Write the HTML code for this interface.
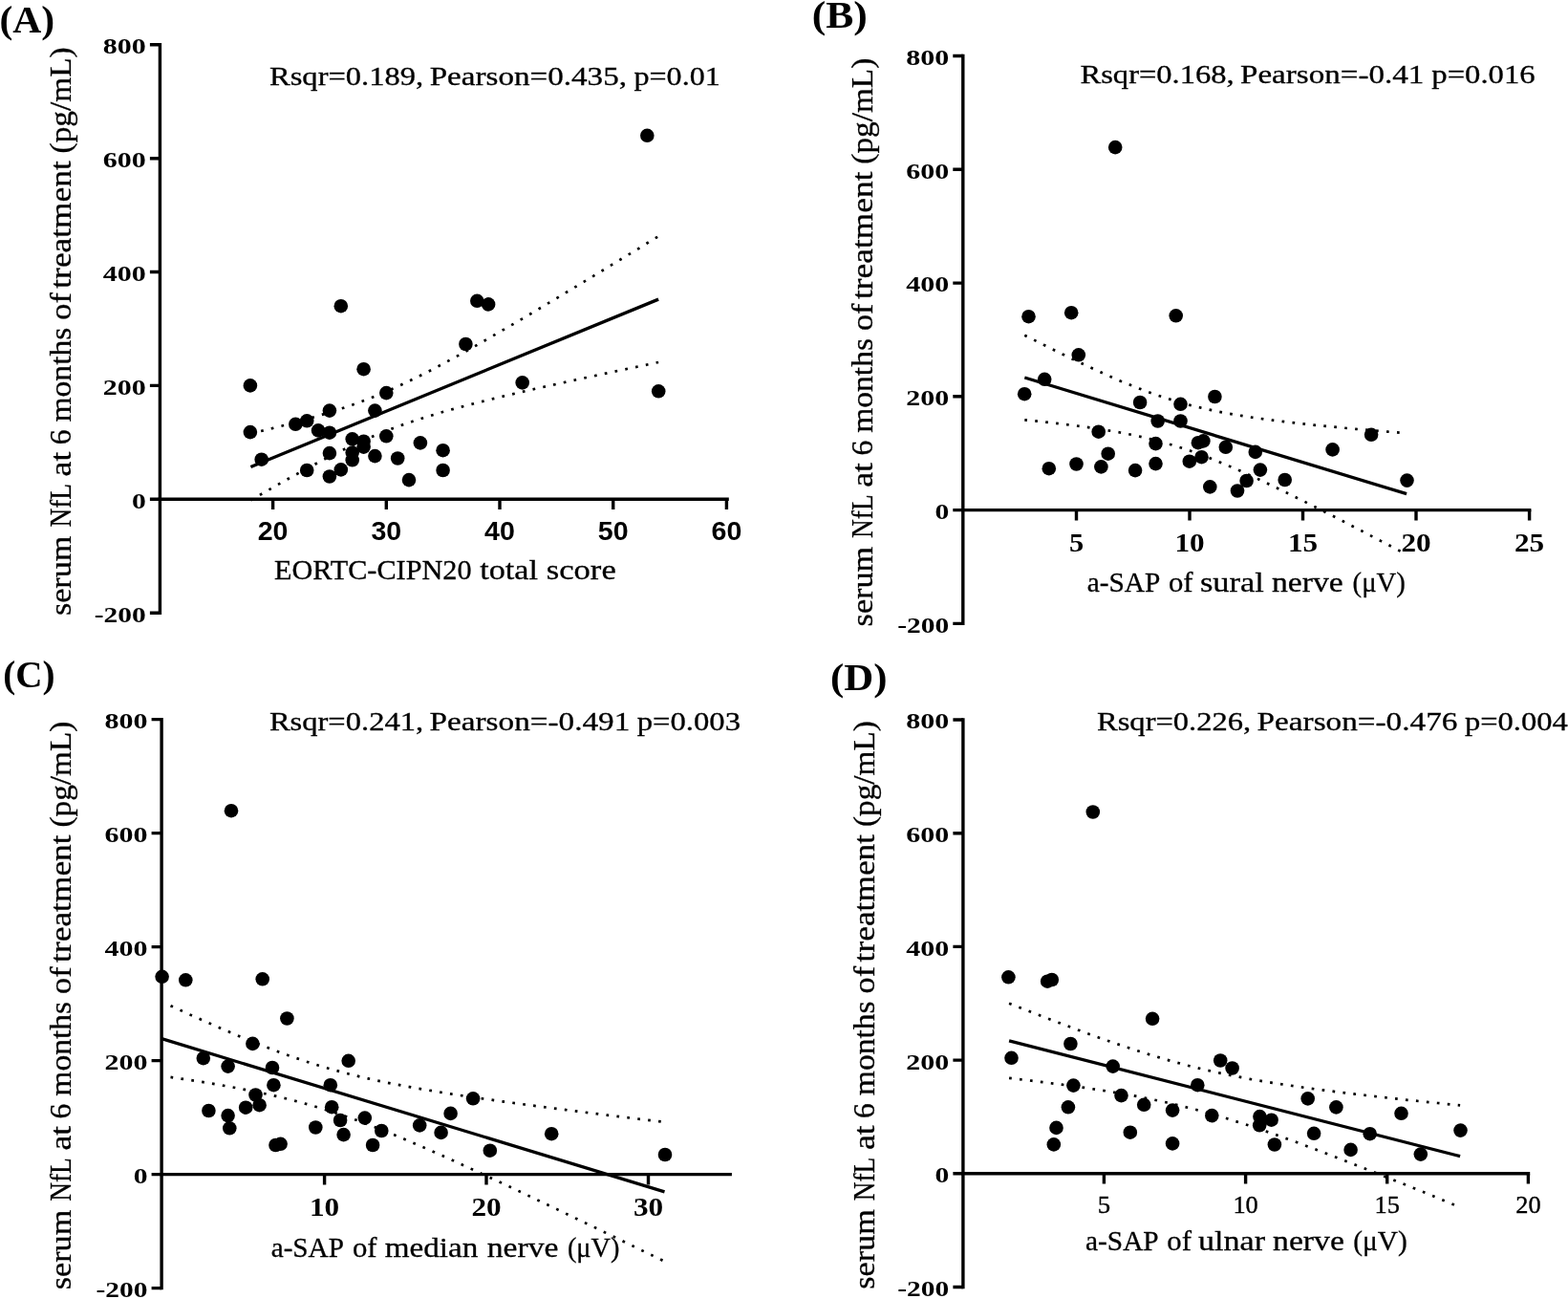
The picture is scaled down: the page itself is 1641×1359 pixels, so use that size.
<!DOCTYPE html>
<html><head><meta charset="utf-8"><title>Figure</title>
<style>html,body{margin:0;padding:0;background:#fff}svg{display:block}text{fill:#000}</style>
</head><body>
<svg width="1641" height="1359" viewBox="0 0 1641 1359">
<rect width="1641" height="1359" fill="#fff"/>
<path d="M167.4 45.1V642.9" stroke="#000" stroke-width="3.4" fill="none"/>
<path d="M165.7 522.3H762.8" stroke="#000" stroke-width="3.4" fill="none"/>
<text x="152.8" y="56.2" font-family='"Liberation Serif", serif' font-size="23.5" font-weight="bold" text-anchor="end" textLength="45.0" lengthAdjust="spacingAndGlyphs">800</text>
<text x="152.8" y="175.1" font-family='"Liberation Serif", serif' font-size="23.5" font-weight="bold" text-anchor="end" textLength="45.0" lengthAdjust="spacingAndGlyphs">600</text>
<text x="152.8" y="293.9" font-family='"Liberation Serif", serif' font-size="23.5" font-weight="bold" text-anchor="end" textLength="45.0" lengthAdjust="spacingAndGlyphs">400</text>
<text x="152.8" y="412.8" font-family='"Liberation Serif", serif' font-size="23.5" font-weight="bold" text-anchor="end" textLength="45.0" lengthAdjust="spacingAndGlyphs">200</text>
<text x="152.8" y="531.7" font-family='"Liberation Serif", serif' font-size="23.5" font-weight="bold" text-anchor="end" textLength="14.8" lengthAdjust="spacingAndGlyphs">0</text>
<text x="152.8" y="650.6" font-family='"Liberation Serif", serif' font-size="23.5" font-weight="bold" text-anchor="end" textLength="54.0" lengthAdjust="spacingAndGlyphs">-200</text>
<text x="285.6" y="565.3" font-family='"Liberation Sans", sans-serif' font-size="27" font-weight="bold" text-anchor="middle" textLength="31.8" lengthAdjust="spacingAndGlyphs">20</text>
<text x="404.3" y="565.3" font-family='"Liberation Sans", sans-serif' font-size="27" font-weight="bold" text-anchor="middle" textLength="31.8" lengthAdjust="spacingAndGlyphs">30</text>
<text x="523.0" y="565.3" font-family='"Liberation Sans", sans-serif' font-size="27" font-weight="bold" text-anchor="middle" textLength="31.8" lengthAdjust="spacingAndGlyphs">40</text>
<text x="641.7" y="565.3" font-family='"Liberation Sans", sans-serif' font-size="27" font-weight="bold" text-anchor="middle" textLength="31.8" lengthAdjust="spacingAndGlyphs">50</text>
<text x="760.4" y="565.3" font-family='"Liberation Sans", sans-serif' font-size="27" font-weight="bold" text-anchor="middle" textLength="31.8" lengthAdjust="spacingAndGlyphs">60</text>
<path d="M156.9 46.8H167.4M156.9 165.7H167.4M156.9 284.5H167.4M156.9 403.4H167.4M156.9 522.3H167.4M156.9 641.2H167.4M285.6 522.3V533.1M404.3 522.3V533.1M523.0 522.3V533.1M641.7 522.3V533.1M760.4 522.3V533.1" stroke="#000" stroke-width="3.4" fill="none"/>
<path d="M262.4 453.6 L269.5 451.9 L276.6 450.2 L283.7 448.4 L290.8 446.6 L298.0 444.8 L305.1 442.9 L312.2 441.0 L319.3 439.0 L326.4 437.0 L333.5 434.9 L340.6 432.8 L347.7 430.6 L354.9 428.3 L362.0 425.9 L369.1 423.4 L376.2 420.8 L383.3 418.2 L390.4 415.4 L397.5 412.5 L404.6 409.4 L411.7 406.3 L418.9 403.1 L426.0 399.7 L433.1 396.3 L440.2 392.8 L447.3 389.2 L454.4 385.5 L461.5 381.7 L468.6 377.9 L475.8 374.0 L482.9 370.1 L490.0 366.2 L497.1 362.1 L504.2 358.1 L511.3 354.0 L518.4 349.9 L525.5 345.8 L532.6 341.6 L539.8 337.5 L546.9 333.3 L554.0 329.1 L561.1 324.8 L568.2 320.6 L575.3 316.3 L582.4 312.1 L589.5 307.8 L596.6 303.5 L603.8 299.2 L610.9 294.9 L618.0 290.6 L625.1 286.3 L632.2 282.0 L639.3 277.6 L646.4 273.3 L653.5 269.0 L660.7 264.6 L667.8 260.3 L674.9 255.9 L682.0 251.5 L689.1 247.2" stroke="#000" stroke-width="2.7" stroke-dasharray="2.7 8.3" stroke-dashoffset="0" fill="none"/>
<path d="M262.4 523.4 L269.5 519.3 L276.6 515.1 L283.7 511.1 L290.8 507.0 L298.0 503.0 L305.1 499.0 L312.2 495.1 L319.3 491.2 L326.4 487.4 L333.5 483.6 L340.6 479.9 L347.7 476.3 L354.9 472.7 L362.0 469.2 L369.1 465.9 L376.2 462.6 L383.3 459.4 L390.4 456.4 L397.5 453.5 L404.6 450.6 L411.7 447.9 L418.9 445.3 L426.0 442.8 L433.1 440.4 L440.2 438.1 L447.3 435.8 L454.4 433.7 L461.5 431.6 L468.6 429.5 L475.8 427.6 L482.9 425.6 L490.0 423.8 L497.1 421.9 L504.2 420.1 L511.3 418.3 L518.4 416.6 L525.5 414.9 L532.6 413.2 L539.8 411.5 L546.9 409.9 L554.0 408.2 L561.1 406.6 L568.2 405.0 L575.3 403.4 L582.4 401.8 L589.5 400.3 L596.6 398.7 L603.8 397.1 L610.9 395.6 L618.0 394.1 L625.1 392.5 L632.2 391.0 L639.3 389.5 L646.4 388.0 L653.5 386.5 L660.7 385.0 L667.8 383.5 L674.9 382.0 L682.0 380.5 L689.1 379.0" stroke="#000" stroke-width="2.7" stroke-dasharray="2.7 8.3" stroke-dashoffset="0" fill="none"/>
<path d="M262.4 488.5L689.1 313.1" stroke="#000" stroke-width="3.3" fill="none"/>
<circle cx="261.9" cy="403.4" r="7.3"/>
<circle cx="261.9" cy="452.1" r="7.3"/>
<circle cx="273.7" cy="480.7" r="7.3"/>
<circle cx="309.3" cy="443.8" r="7.3"/>
<circle cx="321.2" cy="440.3" r="7.3"/>
<circle cx="321.2" cy="492.0" r="7.3"/>
<circle cx="333.1" cy="450.4" r="7.3"/>
<circle cx="344.9" cy="429.6" r="7.3"/>
<circle cx="344.9" cy="452.7" r="7.3"/>
<circle cx="344.9" cy="474.1" r="7.3"/>
<circle cx="344.9" cy="498.5" r="7.3"/>
<circle cx="356.8" cy="320.2" r="7.3"/>
<circle cx="356.8" cy="491.4" r="7.3"/>
<circle cx="368.7" cy="459.3" r="7.3"/>
<circle cx="368.7" cy="473.6" r="7.3"/>
<circle cx="368.7" cy="481.3" r="7.3"/>
<circle cx="380.6" cy="386.2" r="7.3"/>
<circle cx="380.6" cy="461.7" r="7.3"/>
<circle cx="380.6" cy="467.6" r="7.3"/>
<circle cx="392.4" cy="429.6" r="7.3"/>
<circle cx="392.4" cy="477.1" r="7.3"/>
<circle cx="404.3" cy="411.1" r="7.3"/>
<circle cx="404.3" cy="456.3" r="7.3"/>
<circle cx="416.2" cy="479.5" r="7.3"/>
<circle cx="428.0" cy="502.1" r="7.3"/>
<circle cx="439.9" cy="463.4" r="7.3"/>
<circle cx="463.6" cy="471.2" r="7.3"/>
<circle cx="463.6" cy="492.0" r="7.3"/>
<circle cx="487.4" cy="360.0" r="7.3"/>
<circle cx="499.3" cy="314.8" r="7.3"/>
<circle cx="511.1" cy="318.4" r="7.3"/>
<circle cx="546.7" cy="400.4" r="7.3"/>
<circle cx="677.3" cy="141.8" r="7.3"/>
<circle cx="689.2" cy="409.3" r="7.3"/>
<path d="M1007.8 56.8V654.1" stroke="#000" stroke-width="3.4" fill="none"/>
<path d="M1006.1 533.6H1602.4" stroke="#000" stroke-width="3.4" fill="none"/>
<text x="993.2" y="67.9" font-family='"Liberation Serif", serif' font-size="23.5" font-weight="bold" text-anchor="end" textLength="45.0" lengthAdjust="spacingAndGlyphs">800</text>
<text x="993.2" y="186.7" font-family='"Liberation Serif", serif' font-size="23.5" font-weight="bold" text-anchor="end" textLength="45.0" lengthAdjust="spacingAndGlyphs">600</text>
<text x="993.2" y="305.4" font-family='"Liberation Serif", serif' font-size="23.5" font-weight="bold" text-anchor="end" textLength="45.0" lengthAdjust="spacingAndGlyphs">400</text>
<text x="993.2" y="424.2" font-family='"Liberation Serif", serif' font-size="23.5" font-weight="bold" text-anchor="end" textLength="45.0" lengthAdjust="spacingAndGlyphs">200</text>
<text x="993.2" y="543.0" font-family='"Liberation Serif", serif' font-size="23.5" font-weight="bold" text-anchor="end" textLength="14.8" lengthAdjust="spacingAndGlyphs">0</text>
<text x="993.2" y="661.8" font-family='"Liberation Serif", serif' font-size="23.5" font-weight="bold" text-anchor="end" textLength="54.0" lengthAdjust="spacingAndGlyphs">-200</text>
<text x="1126.5" y="576.6" font-family='"Liberation Serif", serif' font-size="26.6" font-weight="bold" text-anchor="middle" textLength="15.2" lengthAdjust="spacingAndGlyphs">5</text>
<text x="1245.0" y="576.6" font-family='"Liberation Serif", serif' font-size="26.6" font-weight="bold" text-anchor="middle" textLength="31.2" lengthAdjust="spacingAndGlyphs">10</text>
<text x="1363.5" y="576.6" font-family='"Liberation Serif", serif' font-size="26.6" font-weight="bold" text-anchor="middle" textLength="31.2" lengthAdjust="spacingAndGlyphs">15</text>
<text x="1482.0" y="576.6" font-family='"Liberation Serif", serif' font-size="26.6" font-weight="bold" text-anchor="middle" textLength="31.2" lengthAdjust="spacingAndGlyphs">20</text>
<text x="1600.6" y="576.6" font-family='"Liberation Serif", serif' font-size="26.6" font-weight="bold" text-anchor="middle" textLength="31.2" lengthAdjust="spacingAndGlyphs">25</text>
<path d="M997.3 58.5H1007.8M997.3 177.3H1007.8M997.3 296.1H1007.8M997.3 414.8H1007.8M997.3 533.6H1007.8M997.3 652.4H1007.8M1126.5 533.6V544.4M1245.0 533.6V544.4M1363.5 533.6V544.4M1482.0 533.6V544.4M1600.6 533.6V544.4" stroke="#000" stroke-width="3.4" fill="none"/>
<path d="M1072.3 350.7 L1079.0 354.1 L1085.6 357.4 L1092.3 360.8 L1099.0 364.1 L1105.6 367.4 L1112.3 370.7 L1118.9 373.9 L1125.6 377.1 L1132.3 380.3 L1138.9 383.4 L1145.6 386.5 L1152.3 389.6 L1158.9 392.6 L1165.6 395.5 L1172.2 398.4 L1178.9 401.1 L1185.6 403.9 L1192.2 406.5 L1198.9 409.0 L1205.6 411.5 L1212.2 413.8 L1218.9 416.0 L1225.6 418.1 L1232.2 420.2 L1238.9 422.1 L1245.5 423.9 L1252.2 425.6 L1258.9 427.1 L1265.5 428.6 L1272.2 430.0 L1278.9 431.4 L1285.5 432.6 L1292.2 433.8 L1298.9 434.9 L1305.5 436.0 L1312.2 437.0 L1318.8 437.9 L1325.5 438.8 L1332.2 439.7 L1338.8 440.5 L1345.5 441.3 L1352.2 442.1 L1358.8 442.9 L1365.5 443.6 L1372.1 444.3 L1378.8 445.0 L1385.5 445.6 L1392.1 446.3 L1398.8 446.9 L1405.5 447.6 L1412.1 448.2 L1418.8 448.8 L1425.5 449.4 L1432.1 449.9 L1438.8 450.5 L1445.4 451.1 L1452.1 451.6 L1458.8 452.2 L1465.4 452.7 L1472.1 453.3" stroke="#000" stroke-width="2.7" stroke-dasharray="2.7 8.3" stroke-dashoffset="0" fill="none"/>
<path d="M1072.3 439.3 L1079.0 440.0 L1085.6 440.7 L1092.3 441.4 L1099.0 442.1 L1105.6 442.9 L1112.3 443.7 L1118.9 444.5 L1125.6 445.3 L1132.3 446.2 L1138.9 447.1 L1145.6 448.1 L1152.3 449.1 L1158.9 450.2 L1165.6 451.3 L1172.2 452.5 L1178.9 453.8 L1185.6 455.1 L1192.2 456.5 L1198.9 458.1 L1205.6 459.7 L1212.2 461.4 L1218.9 463.2 L1225.6 465.2 L1232.2 467.2 L1238.9 469.3 L1245.5 471.6 L1252.2 474.0 L1258.9 476.4 L1265.5 479.0 L1272.2 481.7 L1278.9 484.4 L1285.5 487.2 L1292.2 490.1 L1298.9 493.0 L1305.5 496.0 L1312.2 499.1 L1318.8 502.2 L1325.5 505.3 L1332.2 508.5 L1338.8 511.7 L1345.5 515.0 L1352.2 518.3 L1358.8 521.6 L1365.5 524.9 L1372.1 528.3 L1378.8 531.6 L1385.5 535.0 L1392.1 538.4 L1398.8 541.8 L1405.5 545.3 L1412.1 548.7 L1418.8 552.2 L1425.5 555.6 L1432.1 559.1 L1438.8 562.6 L1445.4 566.1 L1452.1 569.6 L1458.8 573.1 L1465.4 576.6 L1472.1 580.1" stroke="#000" stroke-width="2.7" stroke-dasharray="2.7 8.3" stroke-dashoffset="0" fill="none"/>
<path d="M1072.3 395.0L1472.1 516.7" stroke="#000" stroke-width="3.3" fill="none"/>
<circle cx="1167.2" cy="154.1" r="7.3"/>
<circle cx="1076.5" cy="331.2" r="7.3"/>
<circle cx="1121.2" cy="327.2" r="7.3"/>
<circle cx="1230.7" cy="330.3" r="7.3"/>
<circle cx="1128.8" cy="371.3" r="7.3"/>
<circle cx="1093.2" cy="396.8" r="7.3"/>
<circle cx="1072.2" cy="412.2" r="7.3"/>
<circle cx="1271.4" cy="415.0" r="7.3"/>
<circle cx="1193.1" cy="421.0" r="7.3"/>
<circle cx="1235.5" cy="422.8" r="7.3"/>
<circle cx="1211.7" cy="440.5" r="7.3"/>
<circle cx="1235.5" cy="440.5" r="7.3"/>
<circle cx="1149.7" cy="451.7" r="7.3"/>
<circle cx="1209.5" cy="464.1" r="7.3"/>
<circle cx="1253.9" cy="463.2" r="7.3"/>
<circle cx="1259.4" cy="461.4" r="7.3"/>
<circle cx="1282.8" cy="467.8" r="7.3"/>
<circle cx="1313.8" cy="472.9" r="7.3"/>
<circle cx="1159.7" cy="474.7" r="7.3"/>
<circle cx="1257.5" cy="478.2" r="7.3"/>
<circle cx="1244.8" cy="482.7" r="7.3"/>
<circle cx="1126.5" cy="485.5" r="7.3"/>
<circle cx="1209.5" cy="485.1" r="7.3"/>
<circle cx="1152.4" cy="488.4" r="7.3"/>
<circle cx="1097.8" cy="490.2" r="7.3"/>
<circle cx="1188.1" cy="492.1" r="7.3"/>
<circle cx="1318.9" cy="491.6" r="7.3"/>
<circle cx="1304.6" cy="503.0" r="7.3"/>
<circle cx="1266.3" cy="509.4" r="7.3"/>
<circle cx="1295.0" cy="513.5" r="7.3"/>
<circle cx="1344.7" cy="502.0" r="7.3"/>
<circle cx="1435.1" cy="454.8" r="7.3"/>
<circle cx="1394.6" cy="470.4" r="7.3"/>
<circle cx="1472.5" cy="502.6" r="7.3"/>
<path d="M169.1 750.9V1349.3" stroke="#000" stroke-width="3.4" fill="none"/>
<path d="M167.4 1228.6H765.9" stroke="#000" stroke-width="3.4" fill="none"/>
<text x="154.5" y="762.0" font-family='"Liberation Serif", serif' font-size="23.5" font-weight="bold" text-anchor="end" textLength="45.0" lengthAdjust="spacingAndGlyphs">800</text>
<text x="154.5" y="881.0" font-family='"Liberation Serif", serif' font-size="23.5" font-weight="bold" text-anchor="end" textLength="45.0" lengthAdjust="spacingAndGlyphs">600</text>
<text x="154.5" y="1000.0" font-family='"Liberation Serif", serif' font-size="23.5" font-weight="bold" text-anchor="end" textLength="45.0" lengthAdjust="spacingAndGlyphs">400</text>
<text x="154.5" y="1119.0" font-family='"Liberation Serif", serif' font-size="23.5" font-weight="bold" text-anchor="end" textLength="45.0" lengthAdjust="spacingAndGlyphs">200</text>
<text x="154.5" y="1238.0" font-family='"Liberation Serif", serif' font-size="23.5" font-weight="bold" text-anchor="end" textLength="14.8" lengthAdjust="spacingAndGlyphs">0</text>
<text x="154.5" y="1357.0" font-family='"Liberation Serif", serif' font-size="23.5" font-weight="bold" text-anchor="end" textLength="54.0" lengthAdjust="spacingAndGlyphs">-200</text>
<text x="339.6" y="1271.6" font-family='"Liberation Serif", serif' font-size="26.6" font-weight="bold" text-anchor="middle" textLength="31.2" lengthAdjust="spacingAndGlyphs">10</text>
<text x="509.0" y="1271.6" font-family='"Liberation Serif", serif' font-size="26.6" font-weight="bold" text-anchor="middle" textLength="31.2" lengthAdjust="spacingAndGlyphs">20</text>
<text x="678.5" y="1271.6" font-family='"Liberation Serif", serif' font-size="26.6" font-weight="bold" text-anchor="middle" textLength="31.2" lengthAdjust="spacingAndGlyphs">30</text>
<path d="M158.6 752.6H169.1M158.6 871.6H169.1M158.6 990.6H169.1M158.6 1109.6H169.1M158.6 1228.6H169.1M158.6 1347.6H169.1M339.6 1228.6V1239.4M509.0 1228.6V1239.4M678.5 1228.6V1239.4" stroke="#000" stroke-width="3.4" fill="none"/>
<path d="M178.5 1052.2 L187.1 1056.1 L195.7 1060.1 L204.3 1064.0 L213.0 1067.8 L221.6 1071.6 L230.2 1075.4 L238.8 1079.1 L247.4 1082.8 L256.1 1086.4 L264.7 1089.9 L273.3 1093.4 L281.9 1096.7 L290.5 1100.0 L299.1 1103.2 L307.8 1106.2 L316.4 1109.2 L325.0 1112.0 L333.6 1114.7 L342.2 1117.3 L350.8 1119.7 L359.4 1122.1 L368.1 1124.3 L376.7 1126.4 L385.3 1128.4 L393.9 1130.3 L402.5 1132.1 L411.1 1133.9 L419.8 1135.5 L428.4 1137.1 L437.0 1138.7 L445.6 1140.1 L454.2 1141.6 L462.9 1143.0 L471.5 1144.4 L480.1 1145.7 L488.7 1147.0 L497.3 1148.3 L505.9 1149.5 L514.5 1150.7 L523.2 1152.0 L531.8 1153.2 L540.4 1154.3 L549.0 1155.5 L557.6 1156.6 L566.2 1157.8 L574.9 1158.9 L583.5 1160.0 L592.1 1161.1 L600.7 1162.2 L609.3 1163.3 L618.0 1164.4 L626.6 1165.5 L635.2 1166.6 L643.8 1167.6 L652.4 1168.7 L661.0 1169.7 L669.6 1170.8 L678.3 1171.8 L686.9 1172.9 L695.5 1173.9" stroke="#000" stroke-width="2.7" stroke-dasharray="2.7 8.3" stroke-dashoffset="0" fill="none"/>
<path d="M178.5 1126.9 L187.1 1128.2 L195.7 1129.5 L204.3 1130.8 L213.0 1132.2 L221.6 1133.6 L230.2 1135.1 L238.8 1136.6 L247.4 1138.2 L256.1 1139.9 L264.7 1141.6 L273.3 1143.4 L281.9 1145.2 L290.5 1147.2 L299.1 1149.3 L307.8 1151.5 L316.4 1153.8 L325.0 1156.2 L333.6 1158.7 L342.2 1161.4 L350.8 1164.2 L359.4 1167.1 L368.1 1170.1 L376.7 1173.2 L385.3 1176.5 L393.9 1179.8 L402.5 1183.2 L411.1 1186.7 L419.8 1190.3 L428.4 1194.0 L437.0 1197.7 L445.6 1201.4 L454.2 1205.2 L462.9 1209.1 L471.5 1212.9 L480.1 1216.9 L488.7 1220.8 L497.3 1224.8 L505.9 1228.8 L514.5 1232.8 L523.2 1236.8 L531.8 1240.8 L540.4 1244.9 L549.0 1249.0 L557.6 1253.1 L566.2 1257.2 L574.9 1261.3 L583.5 1265.4 L592.1 1269.6 L600.7 1273.7 L609.3 1277.9 L618.0 1282.0 L626.6 1286.2 L635.2 1290.4 L643.8 1294.5 L652.4 1298.7 L661.0 1302.9 L669.6 1307.1 L678.3 1311.3 L686.9 1315.5 L695.5 1319.7" stroke="#000" stroke-width="2.7" stroke-dasharray="2.7 8.3" stroke-dashoffset="0" fill="none"/>
<path d="M169.2 1086.7L695.5 1246.8" stroke="#000" stroke-width="3.3" fill="none"/>
<circle cx="242.0" cy="848.2" r="7.3"/>
<circle cx="169.6" cy="1021.8" r="7.3"/>
<circle cx="194.3" cy="1025.3" r="7.3"/>
<circle cx="274.7" cy="1024.3" r="7.3"/>
<circle cx="300.4" cy="1065.5" r="7.3"/>
<circle cx="264.4" cy="1091.9" r="7.3"/>
<circle cx="212.8" cy="1107.1" r="7.3"/>
<circle cx="238.6" cy="1115.6" r="7.3"/>
<circle cx="285.0" cy="1117.0" r="7.3"/>
<circle cx="364.7" cy="1109.8" r="7.3"/>
<circle cx="286.4" cy="1135.2" r="7.3"/>
<circle cx="345.8" cy="1135.2" r="7.3"/>
<circle cx="267.5" cy="1145.5" r="7.3"/>
<circle cx="271.6" cy="1156.2" r="7.3"/>
<circle cx="257.2" cy="1158.7" r="7.3"/>
<circle cx="347.2" cy="1158.2" r="7.3"/>
<circle cx="218.4" cy="1162.0" r="7.3"/>
<circle cx="238.6" cy="1167.1" r="7.3"/>
<circle cx="240.3" cy="1180.3" r="7.3"/>
<circle cx="356.1" cy="1172.0" r="7.3"/>
<circle cx="381.8" cy="1169.6" r="7.3"/>
<circle cx="330.3" cy="1179.5" r="7.3"/>
<circle cx="359.6" cy="1187.1" r="7.3"/>
<circle cx="399.3" cy="1183.0" r="7.3"/>
<circle cx="439.2" cy="1177.4" r="7.3"/>
<circle cx="390.1" cy="1198.0" r="7.3"/>
<circle cx="288.5" cy="1198.0" r="7.3"/>
<circle cx="293.6" cy="1196.8" r="7.3"/>
<circle cx="495.1" cy="1149.3" r="7.3"/>
<circle cx="471.6" cy="1164.9" r="7.3"/>
<circle cx="461.6" cy="1184.9" r="7.3"/>
<circle cx="512.8" cy="1203.7" r="7.3"/>
<circle cx="577.2" cy="1186.2" r="7.3"/>
<circle cx="696.0" cy="1208.0" r="7.3"/>
<path d="M1007.9 751.3V1348.2" stroke="#000" stroke-width="3.4" fill="none"/>
<path d="M1006.2 1227.8H1601.2" stroke="#000" stroke-width="3.4" fill="none"/>
<text x="993.3" y="762.4" font-family='"Liberation Serif", serif' font-size="23.5" font-weight="bold" text-anchor="end" textLength="45.0" lengthAdjust="spacingAndGlyphs">800</text>
<text x="993.3" y="881.1" font-family='"Liberation Serif", serif' font-size="23.5" font-weight="bold" text-anchor="end" textLength="45.0" lengthAdjust="spacingAndGlyphs">600</text>
<text x="993.3" y="999.8" font-family='"Liberation Serif", serif' font-size="23.5" font-weight="bold" text-anchor="end" textLength="45.0" lengthAdjust="spacingAndGlyphs">400</text>
<text x="993.3" y="1118.5" font-family='"Liberation Serif", serif' font-size="23.5" font-weight="bold" text-anchor="end" textLength="45.0" lengthAdjust="spacingAndGlyphs">200</text>
<text x="993.3" y="1237.2" font-family='"Liberation Serif", serif' font-size="23.5" font-weight="bold" text-anchor="end" textLength="14.8" lengthAdjust="spacingAndGlyphs">0</text>
<text x="993.3" y="1355.9" font-family='"Liberation Serif", serif' font-size="23.5" font-weight="bold" text-anchor="end" textLength="54.0" lengthAdjust="spacingAndGlyphs">-200</text>
<text x="1155.4" y="1269.0" font-family='"Liberation Serif", serif' font-size="24.5" font-weight="normal" text-anchor="middle" textLength="13.4" lengthAdjust="spacingAndGlyphs" stroke="#000" stroke-width="0.35">5</text>
<text x="1303.6" y="1269.0" font-family='"Liberation Serif", serif' font-size="24.5" font-weight="normal" text-anchor="middle" textLength="26.4" lengthAdjust="spacingAndGlyphs" stroke="#000" stroke-width="0.35">10</text>
<text x="1451.7" y="1269.0" font-family='"Liberation Serif", serif' font-size="24.5" font-weight="normal" text-anchor="middle" textLength="26.4" lengthAdjust="spacingAndGlyphs" stroke="#000" stroke-width="0.35">15</text>
<text x="1599.4" y="1269.0" font-family='"Liberation Serif", serif' font-size="24.5" font-weight="normal" text-anchor="middle" textLength="26.4" lengthAdjust="spacingAndGlyphs" stroke="#000" stroke-width="0.35">20</text>
<path d="M997.4 753.0H1007.9M997.4 871.7H1007.9M997.4 990.4H1007.9M997.4 1109.1H1007.9M997.4 1227.8H1007.9M997.4 1346.5H1007.9M1155.4 1227.8V1238.6M1303.6 1227.8V1238.6M1451.7 1227.8V1238.6M1599.4 1227.8V1238.6" stroke="#000" stroke-width="3.4" fill="none"/>
<path d="M1056.1 1049.7 L1064.0 1052.8 L1071.8 1055.9 L1079.7 1059.0 L1087.6 1062.1 L1095.4 1065.1 L1103.3 1068.1 L1111.2 1071.1 L1119.0 1074.1 L1126.9 1077.0 L1134.8 1080.0 L1142.6 1082.8 L1150.5 1085.7 L1158.4 1088.5 L1166.2 1091.2 L1174.1 1093.9 L1182.0 1096.5 L1189.8 1099.1 L1197.7 1101.6 L1205.6 1104.1 L1213.4 1106.4 L1221.3 1108.7 L1229.2 1111.0 L1237.0 1113.1 L1244.9 1115.2 L1252.8 1117.1 L1260.6 1119.0 L1268.5 1120.8 L1276.4 1122.6 L1284.2 1124.2 L1292.1 1125.8 L1300.0 1127.3 L1307.8 1128.8 L1315.7 1130.2 L1323.6 1131.5 L1331.4 1132.8 L1339.3 1134.0 L1347.2 1135.2 L1355.0 1136.4 L1362.9 1137.5 L1370.8 1138.6 L1378.6 1139.7 L1386.5 1140.7 L1394.4 1141.7 L1402.2 1142.7 L1410.1 1143.6 L1418.0 1144.6 L1425.8 1145.5 L1433.7 1146.4 L1441.6 1147.3 L1449.4 1148.2 L1457.3 1149.1 L1465.2 1149.9 L1473.0 1150.8 L1480.9 1151.6 L1488.8 1152.4 L1496.6 1153.2 L1504.5 1154.0 L1512.4 1154.8 L1520.2 1155.6 L1528.1 1156.4" stroke="#000" stroke-width="2.7" stroke-dasharray="2.7 8.3" stroke-dashoffset="0" fill="none"/>
<path d="M1056.1 1127.9 L1064.0 1128.8 L1071.8 1129.8 L1079.7 1130.7 L1087.6 1131.7 L1095.4 1132.7 L1103.3 1133.7 L1111.2 1134.7 L1119.0 1135.7 L1126.9 1136.8 L1134.8 1137.9 L1142.6 1139.1 L1150.5 1140.3 L1158.4 1141.5 L1166.2 1142.8 L1174.1 1144.2 L1182.0 1145.5 L1189.8 1147.0 L1197.7 1148.5 L1205.6 1150.1 L1213.4 1151.8 L1221.3 1153.5 L1229.2 1155.3 L1237.0 1157.2 L1244.9 1159.2 L1252.8 1161.2 L1260.6 1163.4 L1268.5 1165.6 L1276.4 1167.9 L1284.2 1170.2 L1292.1 1172.7 L1300.0 1175.2 L1307.8 1177.8 L1315.7 1180.4 L1323.6 1183.1 L1331.4 1185.8 L1339.3 1188.6 L1347.2 1191.5 L1355.0 1194.3 L1362.9 1197.3 L1370.8 1200.2 L1378.6 1203.2 L1386.5 1206.2 L1394.4 1209.2 L1402.2 1212.2 L1410.1 1215.3 L1418.0 1218.4 L1425.8 1221.5 L1433.7 1224.6 L1441.6 1227.8 L1449.4 1230.9 L1457.3 1234.1 L1465.2 1237.3 L1473.0 1240.4 L1480.9 1243.6 L1488.8 1246.8 L1496.6 1250.0 L1504.5 1253.3 L1512.4 1256.5 L1520.2 1259.7 L1528.1 1263.0" stroke="#000" stroke-width="2.7" stroke-dasharray="2.7 8.3" stroke-dashoffset="0" fill="none"/>
<path d="M1056.1 1088.8L1528.1 1209.7" stroke="#000" stroke-width="3.3" fill="none"/>
<circle cx="1143.8" cy="849.5" r="7.3"/>
<circle cx="1055.4" cy="1022.3" r="7.3"/>
<circle cx="1096.2" cy="1026.7" r="7.3"/>
<circle cx="1100.8" cy="1025.0" r="7.3"/>
<circle cx="1206.1" cy="1065.8" r="7.3"/>
<circle cx="1120.4" cy="1092.0" r="7.3"/>
<circle cx="1058.5" cy="1106.8" r="7.3"/>
<circle cx="1164.7" cy="1115.6" r="7.3"/>
<circle cx="1277.2" cy="1109.5" r="7.3"/>
<circle cx="1289.6" cy="1117.5" r="7.3"/>
<circle cx="1253.3" cy="1135.2" r="7.3"/>
<circle cx="1123.4" cy="1135.6" r="7.3"/>
<circle cx="1173.5" cy="1146.1" r="7.3"/>
<circle cx="1197.2" cy="1155.8" r="7.3"/>
<circle cx="1117.9" cy="1158.3" r="7.3"/>
<circle cx="1227.1" cy="1161.6" r="7.3"/>
<circle cx="1268.3" cy="1167.1" r="7.3"/>
<circle cx="1105.5" cy="1179.9" r="7.3"/>
<circle cx="1182.8" cy="1184.7" r="7.3"/>
<circle cx="1102.8" cy="1197.4" r="7.3"/>
<circle cx="1227.1" cy="1196.4" r="7.3"/>
<circle cx="1318.4" cy="1168.1" r="7.3"/>
<circle cx="1318.2" cy="1177.3" r="7.3"/>
<circle cx="1368.7" cy="1149.4" r="7.3"/>
<circle cx="1398.4" cy="1158.4" r="7.3"/>
<circle cx="1466.5" cy="1164.8" r="7.3"/>
<circle cx="1330.6" cy="1171.7" r="7.3"/>
<circle cx="1375.1" cy="1185.8" r="7.3"/>
<circle cx="1433.7" cy="1186.2" r="7.3"/>
<circle cx="1528.5" cy="1182.6" r="7.3"/>
<circle cx="1333.9" cy="1197.5" r="7.3"/>
<circle cx="1413.6" cy="1202.9" r="7.3"/>
<circle cx="1486.8" cy="1207.6" r="7.3"/>
<text x="-0.5" y="33.5" font-family='"Liberation Serif", serif' font-size="41" font-weight="bold" text-anchor="start" textLength="57.7" lengthAdjust="spacingAndGlyphs">(A)</text>
<text x="849.7" y="28.9" font-family='"Liberation Serif", serif' font-size="41" font-weight="bold" text-anchor="start" textLength="58.1" lengthAdjust="spacingAndGlyphs">(B)</text>
<text x="3.2" y="719.2" font-family='"Liberation Serif", serif' font-size="41" font-weight="bold" text-anchor="start" textLength="54.3" lengthAdjust="spacingAndGlyphs">(C)</text>
<text x="869.1" y="721.6" font-family='"Liberation Serif", serif' font-size="41" font-weight="bold" text-anchor="start" textLength="59.5" lengthAdjust="spacingAndGlyphs">(D)</text>
<text x="282.0" y="89.3" font-family='"Liberation Serif", serif' font-size="27" font-weight="normal" text-anchor="start" textLength="161.2" lengthAdjust="spacingAndGlyphs" stroke="#000" stroke-width="0.3">Rsqr=0.189,</text>
<text x="449.7" y="89.3" font-family='"Liberation Serif", serif' font-size="27" font-weight="normal" text-anchor="start" textLength="206.3" lengthAdjust="spacingAndGlyphs" stroke="#000" stroke-width="0.3">Pearson=0.435,</text>
<text x="663.5" y="89.3" font-family='"Liberation Serif", serif' font-size="27" font-weight="normal" text-anchor="start" textLength="90.2" lengthAdjust="spacingAndGlyphs" stroke="#000" stroke-width="0.3">p=0.01</text>
<text x="1130.5" y="87.0" font-family='"Liberation Serif", serif' font-size="27" font-weight="normal" text-anchor="start" textLength="161.2" lengthAdjust="spacingAndGlyphs" stroke="#000" stroke-width="0.3">Rsqr=0.168,</text>
<text x="1298.0" y="87.0" font-family='"Liberation Serif", serif' font-size="27" font-weight="normal" text-anchor="start" textLength="192.3" lengthAdjust="spacingAndGlyphs" stroke="#000" stroke-width="0.3">Pearson=-0.41</text>
<text x="1498.3" y="87.0" font-family='"Liberation Serif", serif' font-size="27" font-weight="normal" text-anchor="start" textLength="108.3" lengthAdjust="spacingAndGlyphs" stroke="#000" stroke-width="0.3">p=0.016</text>
<text x="281.9" y="763.6" font-family='"Liberation Serif", serif' font-size="27" font-weight="normal" text-anchor="start" textLength="161.2" lengthAdjust="spacingAndGlyphs" stroke="#000" stroke-width="0.3">Rsqr=0.241,</text>
<text x="449.6" y="763.6" font-family='"Liberation Serif", serif' font-size="27" font-weight="normal" text-anchor="start" textLength="209.7" lengthAdjust="spacingAndGlyphs" stroke="#000" stroke-width="0.3">Pearson=-0.491</text>
<text x="666.7" y="763.6" font-family='"Liberation Serif", serif' font-size="27" font-weight="normal" text-anchor="start" textLength="108.4" lengthAdjust="spacingAndGlyphs" stroke="#000" stroke-width="0.3">p=0.003</text>
<text x="1148.0" y="763.6" font-family='"Liberation Serif", serif' font-size="27" font-weight="normal" text-anchor="start" textLength="161.2" lengthAdjust="spacingAndGlyphs" stroke="#000" stroke-width="0.3">Rsqr=0.226,</text>
<text x="1315.6" y="763.6" font-family='"Liberation Serif", serif' font-size="27" font-weight="normal" text-anchor="start" textLength="209.8" lengthAdjust="spacingAndGlyphs" stroke="#000" stroke-width="0.3">Pearson=-0.476</text>
<text x="1532.9" y="763.6" font-family='"Liberation Serif", serif' font-size="27" font-weight="normal" text-anchor="start" textLength="107.9" lengthAdjust="spacingAndGlyphs" stroke="#000" stroke-width="0.3">p=0.004</text>
<text x="287.0" y="605.5" font-family='"Liberation Serif", serif' font-size="29.5" font-weight="normal" text-anchor="start" textLength="206.6" lengthAdjust="spacingAndGlyphs" stroke="#000" stroke-width="0.3">EORTC-CIPN20</text>
<text x="502.2" y="605.5" font-family='"Liberation Serif", serif' font-size="29.5" font-weight="normal" text-anchor="start" textLength="60.9" lengthAdjust="spacingAndGlyphs" stroke="#000" stroke-width="0.3">total</text>
<text x="571.7" y="605.5" font-family='"Liberation Serif", serif' font-size="29.5" font-weight="normal" text-anchor="start" textLength="73.1" lengthAdjust="spacingAndGlyphs" stroke="#000" stroke-width="0.3">score</text>
<text x="1137.7" y="619.1" font-family='"Liberation Serif", serif' font-size="29.5" font-weight="normal" text-anchor="start" textLength="76.7" lengthAdjust="spacingAndGlyphs" stroke="#000" stroke-width="0.3">a-SAP</text>
<text x="1223.0" y="619.1" font-family='"Liberation Serif", serif' font-size="29.5" font-weight="normal" text-anchor="start" textLength="25.6" lengthAdjust="spacingAndGlyphs" stroke="#000" stroke-width="0.3">of</text>
<text x="1255.9" y="619.1" font-family='"Liberation Serif", serif' font-size="29.5" font-weight="normal" text-anchor="start" textLength="67.0" lengthAdjust="spacingAndGlyphs" stroke="#000" stroke-width="0.3">sural</text>
<text x="1331.0" y="619.1" font-family='"Liberation Serif", serif' font-size="29.5" font-weight="normal" text-anchor="start" textLength="74.8" lengthAdjust="spacingAndGlyphs" stroke="#000" stroke-width="0.3">nerve</text>
<text x="1415.6" y="619.1" font-family='"Liberation Serif", serif' font-size="29.5" font-weight="normal" text-anchor="start" textLength="55.3" lengthAdjust="spacingAndGlyphs" stroke="#000" stroke-width="0.3">(μV)</text>
<text x="283.7" y="1315.0" font-family='"Liberation Serif", serif' font-size="29.5" font-weight="normal" text-anchor="start" textLength="76.2" lengthAdjust="spacingAndGlyphs" stroke="#000" stroke-width="0.3">a-SAP</text>
<text x="368.9" y="1315.0" font-family='"Liberation Serif", serif' font-size="29.5" font-weight="normal" text-anchor="start" textLength="25.6" lengthAdjust="spacingAndGlyphs" stroke="#000" stroke-width="0.3">of</text>
<text x="402.7" y="1315.0" font-family='"Liberation Serif", serif' font-size="29.5" font-weight="normal" text-anchor="start" textLength="97.7" lengthAdjust="spacingAndGlyphs" stroke="#000" stroke-width="0.3">median</text>
<text x="509.7" y="1315.0" font-family='"Liberation Serif", serif' font-size="29.5" font-weight="normal" text-anchor="start" textLength="74.7" lengthAdjust="spacingAndGlyphs" stroke="#000" stroke-width="0.3">nerve</text>
<text x="593.9" y="1315.0" font-family='"Liberation Serif", serif' font-size="29.5" font-weight="normal" text-anchor="start" textLength="54.5" lengthAdjust="spacingAndGlyphs" stroke="#000" stroke-width="0.3">(μV)</text>
<text x="1136.0" y="1307.9" font-family='"Liberation Serif", serif' font-size="29.5" font-weight="normal" text-anchor="start" textLength="76.7" lengthAdjust="spacingAndGlyphs" stroke="#000" stroke-width="0.3">a-SAP</text>
<text x="1221.3" y="1307.9" font-family='"Liberation Serif", serif' font-size="29.5" font-weight="normal" text-anchor="start" textLength="25.6" lengthAdjust="spacingAndGlyphs" stroke="#000" stroke-width="0.3">of</text>
<text x="1254.0" y="1307.9" font-family='"Liberation Serif", serif' font-size="29.5" font-weight="normal" text-anchor="start" textLength="70.1" lengthAdjust="spacingAndGlyphs" stroke="#000" stroke-width="0.3">ulnar</text>
<text x="1332.0" y="1307.9" font-family='"Liberation Serif", serif' font-size="29.5" font-weight="normal" text-anchor="start" textLength="75.0" lengthAdjust="spacingAndGlyphs" stroke="#000" stroke-width="0.3">nerve</text>
<text x="1416.3" y="1307.9" font-family='"Liberation Serif", serif' font-size="29.5" font-weight="normal" text-anchor="start" textLength="56.5" lengthAdjust="spacingAndGlyphs" stroke="#000" stroke-width="0.3">(μV)</text>
<g transform="translate(73.9 643.5) rotate(-90)">
<text x="-0.6" y="0.0" font-family='"Liberation Serif", serif' font-size="32" font-weight="normal" text-anchor="start" textLength="83.5" lengthAdjust="spacingAndGlyphs" stroke="#000" stroke-width="0.3">serum</text>
<text x="91.9" y="0.0" font-family='"Liberation Serif", serif' font-size="32" font-weight="normal" text-anchor="start" textLength="45.6" lengthAdjust="spacingAndGlyphs" stroke="#000" stroke-width="0.3">NfL</text>
<text x="145.1" y="0.0" font-family='"Liberation Serif", serif' font-size="32" font-weight="normal" text-anchor="start" textLength="25.7" lengthAdjust="spacingAndGlyphs" stroke="#000" stroke-width="0.3">at</text>
<text x="178.2" y="0.0" font-family='"Liberation Serif", serif' font-size="32" font-weight="normal" text-anchor="start" textLength="15.7" lengthAdjust="spacingAndGlyphs" stroke="#000" stroke-width="0.3">6</text>
<text x="202.0" y="0.0" font-family='"Liberation Serif", serif' font-size="32" font-weight="normal" text-anchor="start" textLength="98.8" lengthAdjust="spacingAndGlyphs" stroke="#000" stroke-width="0.3">months</text>
<text x="308.8" y="0.0" font-family='"Liberation Serif", serif' font-size="32" font-weight="normal" text-anchor="start" textLength="28.5" lengthAdjust="spacingAndGlyphs" stroke="#000" stroke-width="0.3">of</text>
<text x="341.8" y="0.0" font-family='"Liberation Serif", serif' font-size="32" font-weight="normal" text-anchor="start" textLength="133.5" lengthAdjust="spacingAndGlyphs" stroke="#000" stroke-width="0.3">treatment</text>
<text x="483.1" y="0.0" font-family='"Liberation Serif", serif' font-size="32" font-weight="normal" text-anchor="start" textLength="111.0" lengthAdjust="spacingAndGlyphs" stroke="#000" stroke-width="0.3">(pg/mL)</text>
</g>
<g transform="translate(913.0 654.8) rotate(-90)">
<text x="-0.6" y="0.0" font-family='"Liberation Serif", serif' font-size="32" font-weight="normal" text-anchor="start" textLength="83.5" lengthAdjust="spacingAndGlyphs" stroke="#000" stroke-width="0.3">serum</text>
<text x="91.9" y="0.0" font-family='"Liberation Serif", serif' font-size="32" font-weight="normal" text-anchor="start" textLength="45.6" lengthAdjust="spacingAndGlyphs" stroke="#000" stroke-width="0.3">NfL</text>
<text x="145.1" y="0.0" font-family='"Liberation Serif", serif' font-size="32" font-weight="normal" text-anchor="start" textLength="25.7" lengthAdjust="spacingAndGlyphs" stroke="#000" stroke-width="0.3">at</text>
<text x="178.2" y="0.0" font-family='"Liberation Serif", serif' font-size="32" font-weight="normal" text-anchor="start" textLength="15.7" lengthAdjust="spacingAndGlyphs" stroke="#000" stroke-width="0.3">6</text>
<text x="202.0" y="0.0" font-family='"Liberation Serif", serif' font-size="32" font-weight="normal" text-anchor="start" textLength="98.8" lengthAdjust="spacingAndGlyphs" stroke="#000" stroke-width="0.3">months</text>
<text x="308.8" y="0.0" font-family='"Liberation Serif", serif' font-size="32" font-weight="normal" text-anchor="start" textLength="28.5" lengthAdjust="spacingAndGlyphs" stroke="#000" stroke-width="0.3">of</text>
<text x="341.8" y="0.0" font-family='"Liberation Serif", serif' font-size="32" font-weight="normal" text-anchor="start" textLength="133.5" lengthAdjust="spacingAndGlyphs" stroke="#000" stroke-width="0.3">treatment</text>
<text x="483.1" y="0.0" font-family='"Liberation Serif", serif' font-size="32" font-weight="normal" text-anchor="start" textLength="111.0" lengthAdjust="spacingAndGlyphs" stroke="#000" stroke-width="0.3">(pg/mL)</text>
</g>
<g transform="translate(73.8 1348.7) rotate(-90)">
<text x="-0.6" y="0.0" font-family='"Liberation Serif", serif' font-size="32" font-weight="normal" text-anchor="start" textLength="83.5" lengthAdjust="spacingAndGlyphs" stroke="#000" stroke-width="0.3">serum</text>
<text x="91.9" y="0.0" font-family='"Liberation Serif", serif' font-size="32" font-weight="normal" text-anchor="start" textLength="45.6" lengthAdjust="spacingAndGlyphs" stroke="#000" stroke-width="0.3">NfL</text>
<text x="145.1" y="0.0" font-family='"Liberation Serif", serif' font-size="32" font-weight="normal" text-anchor="start" textLength="25.7" lengthAdjust="spacingAndGlyphs" stroke="#000" stroke-width="0.3">at</text>
<text x="178.2" y="0.0" font-family='"Liberation Serif", serif' font-size="32" font-weight="normal" text-anchor="start" textLength="15.7" lengthAdjust="spacingAndGlyphs" stroke="#000" stroke-width="0.3">6</text>
<text x="202.0" y="0.0" font-family='"Liberation Serif", serif' font-size="32" font-weight="normal" text-anchor="start" textLength="98.8" lengthAdjust="spacingAndGlyphs" stroke="#000" stroke-width="0.3">months</text>
<text x="308.8" y="0.0" font-family='"Liberation Serif", serif' font-size="32" font-weight="normal" text-anchor="start" textLength="28.5" lengthAdjust="spacingAndGlyphs" stroke="#000" stroke-width="0.3">of</text>
<text x="341.8" y="0.0" font-family='"Liberation Serif", serif' font-size="32" font-weight="normal" text-anchor="start" textLength="133.5" lengthAdjust="spacingAndGlyphs" stroke="#000" stroke-width="0.3">treatment</text>
<text x="483.1" y="0.0" font-family='"Liberation Serif", serif' font-size="32" font-weight="normal" text-anchor="start" textLength="111.0" lengthAdjust="spacingAndGlyphs" stroke="#000" stroke-width="0.3">(pg/mL)</text>
</g>
<g transform="translate(914.8 1348.2) rotate(-90)">
<text x="-0.6" y="0.0" font-family='"Liberation Serif", serif' font-size="32" font-weight="normal" text-anchor="start" textLength="83.5" lengthAdjust="spacingAndGlyphs" stroke="#000" stroke-width="0.3">serum</text>
<text x="91.9" y="0.0" font-family='"Liberation Serif", serif' font-size="32" font-weight="normal" text-anchor="start" textLength="45.6" lengthAdjust="spacingAndGlyphs" stroke="#000" stroke-width="0.3">NfL</text>
<text x="145.1" y="0.0" font-family='"Liberation Serif", serif' font-size="32" font-weight="normal" text-anchor="start" textLength="25.7" lengthAdjust="spacingAndGlyphs" stroke="#000" stroke-width="0.3">at</text>
<text x="178.2" y="0.0" font-family='"Liberation Serif", serif' font-size="32" font-weight="normal" text-anchor="start" textLength="15.7" lengthAdjust="spacingAndGlyphs" stroke="#000" stroke-width="0.3">6</text>
<text x="202.0" y="0.0" font-family='"Liberation Serif", serif' font-size="32" font-weight="normal" text-anchor="start" textLength="98.8" lengthAdjust="spacingAndGlyphs" stroke="#000" stroke-width="0.3">months</text>
<text x="308.8" y="0.0" font-family='"Liberation Serif", serif' font-size="32" font-weight="normal" text-anchor="start" textLength="28.5" lengthAdjust="spacingAndGlyphs" stroke="#000" stroke-width="0.3">of</text>
<text x="341.8" y="0.0" font-family='"Liberation Serif", serif' font-size="32" font-weight="normal" text-anchor="start" textLength="133.5" lengthAdjust="spacingAndGlyphs" stroke="#000" stroke-width="0.3">treatment</text>
<text x="483.1" y="0.0" font-family='"Liberation Serif", serif' font-size="32" font-weight="normal" text-anchor="start" textLength="111.0" lengthAdjust="spacingAndGlyphs" stroke="#000" stroke-width="0.3">(pg/mL)</text>
</g>
</svg>
</body></html>
